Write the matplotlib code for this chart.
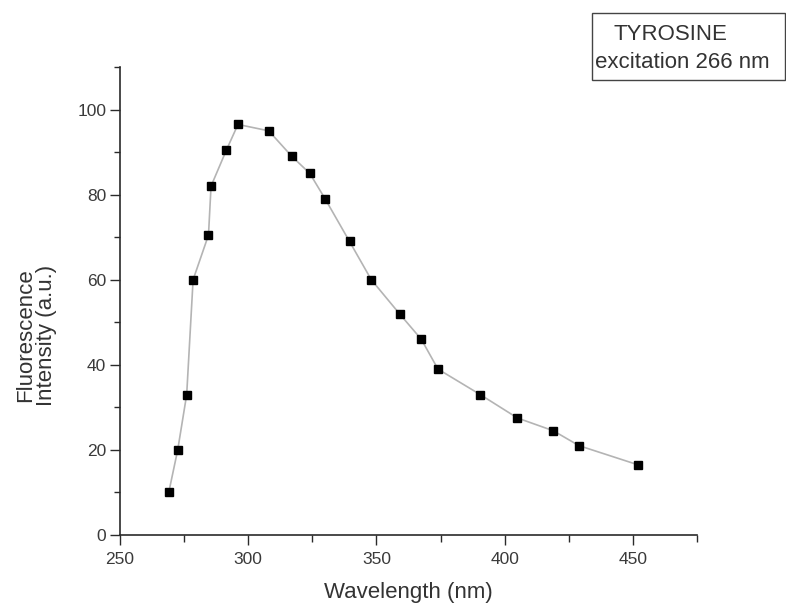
import matplotlib
matplotlib.use("Agg")
import matplotlib.pyplot as plt
from matplotlib.patches import Rectangle
from matplotlib.ticker import MultipleLocator

# Tyrosine emission spectrum, excitation at 266 nm
wavelength = [269, 272.5, 276, 278.5, 284.5, 285.5, 291.5, 296, 308, 317, 324,
              330, 339.5, 348, 359, 367.5, 374, 390.5, 405, 419, 429, 452]
intensity = [10, 20, 33, 60, 70.5, 82, 90.5, 96.5, 95, 89, 85,
             79, 69, 60, 52, 46, 39, 33, 27.5, 24.5, 21, 16.5]

title_lines = ["TYROSINE", "excitation 266 nm"]
x_label = "Wavelength (nm)"
y_label = "Fluorescence\nIntensity (a.u.)"

plt.rcParams["font.family"] = ["Liberation Sans", "DejaVu Sans"]
ink = "#2a2a2a"

fig = plt.figure(figsize=(7.86, 6.07), dpi=100)
ax = fig.add_axes([0.1527, 0.1186, 0.734, 0.771])

ax.plot(wavelength, intensity, color="#b4b4b4", lw=1.2, zorder=2)
ax.plot(wavelength, intensity, ls="none", marker="s", ms=6,
        color="black", zorder=3)

ax.set_xlim(250, 475)
ax.set_ylim(0, 110)
ax.xaxis.set_major_locator(MultipleLocator(50))
ax.xaxis.set_minor_locator(MultipleLocator(25))
ax.yaxis.set_major_locator(MultipleLocator(20))
ax.yaxis.set_minor_locator(MultipleLocator(10))

for side in ("top", "right"):
    ax.spines[side].set_visible(False)
for side in ("left", "bottom"):
    ax.spines[side].set_color(ink)
    ax.spines[side].set_linewidth(1.2)

ax.tick_params(axis="both", which="both", colors=ink, labelcolor="#3a3a3a",
               labelsize=12.5, width=1.0, direction="out")
ax.tick_params(axis="y", which="major", length=7, pad=3)
ax.tick_params(axis="y", which="minor", length=4)
ax.tick_params(axis="x", which="major", length=7, pad=5)
ax.tick_params(axis="x", which="minor", length=5)

ax.set_xlabel(x_label, fontsize=16, color="#333333", va="top")
ax.xaxis.set_label_coords(0.5, -0.1)
ax.set_ylabel(y_label, fontsize=16, color="#333333", linespacing=1.0)
ax.yaxis.set_label_coords(-0.109, 0.427)

# boxed sample caption in the top-right corner
fig.patches.append(Rectangle((592 / 786, 1 - 80 / 607), 193 / 786, 67 / 607,
                             transform=fig.transFigure, fill=False,
                             edgecolor="#444444", lw=1.0))
fig.text(670 / 786, 1 - 34 / 607, title_lines[0], fontsize=16,
         color="#333333", ha="center", va="center")
fig.text(595 / 786, 1 - 62 / 607, title_lines[1], fontsize=16,
         color="#333333", ha="left", va="center")

fig.savefig("out.png", dpi=100, facecolor="white")
